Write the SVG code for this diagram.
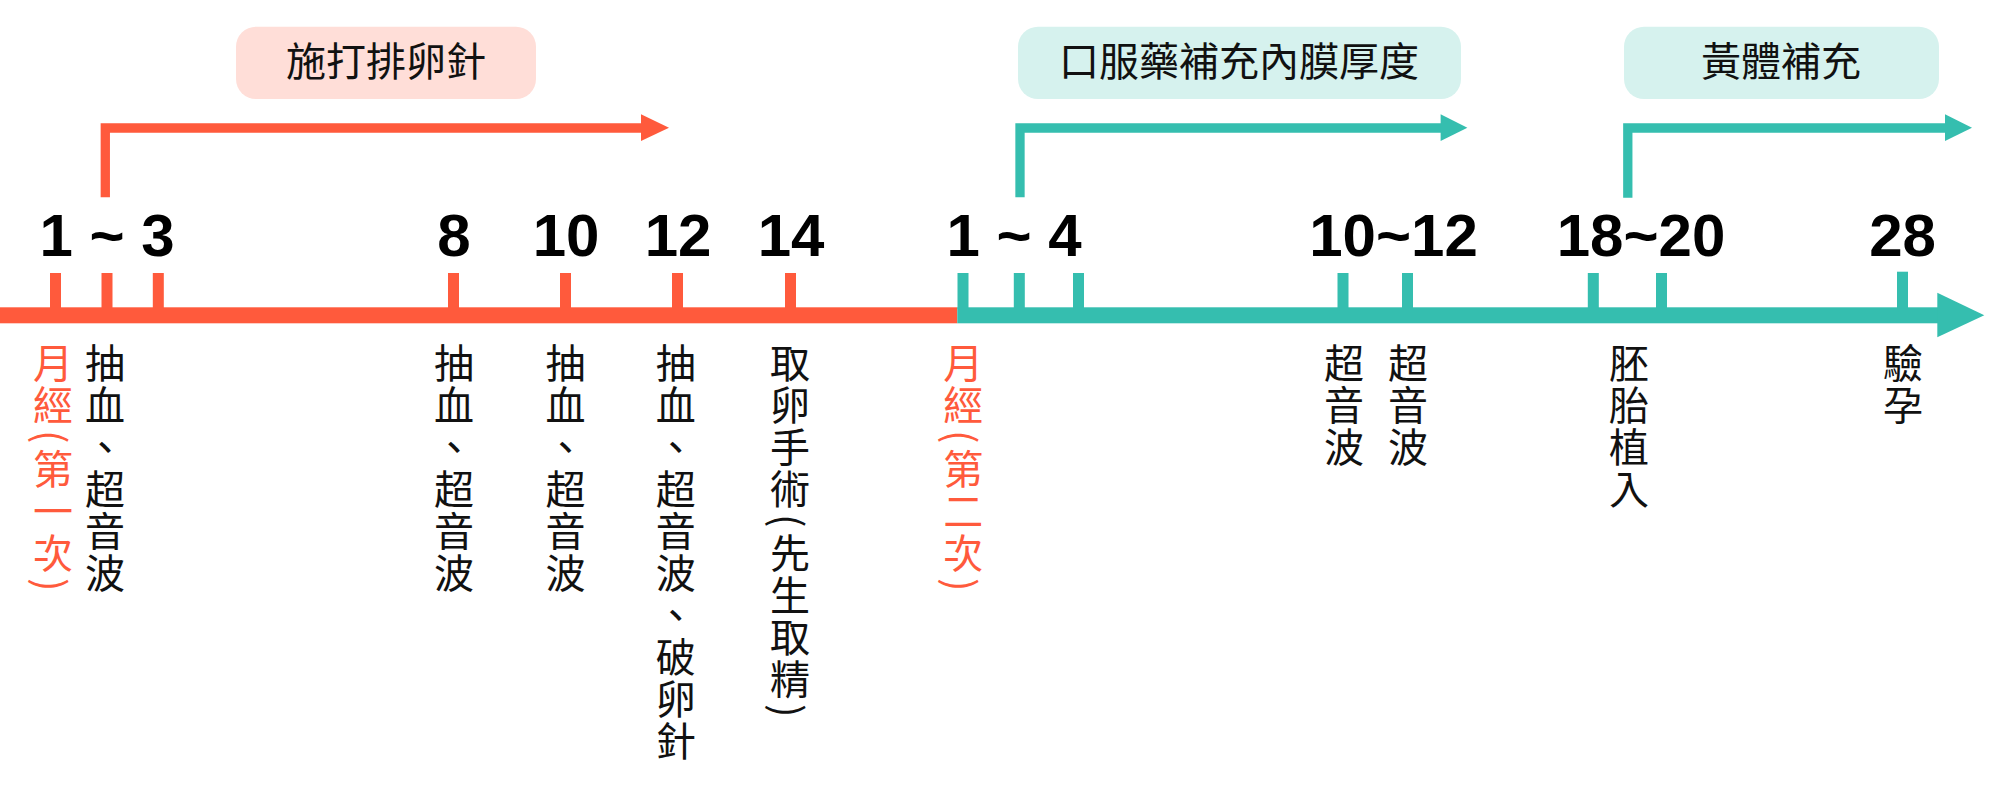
<svg xmlns="http://www.w3.org/2000/svg" width="2000" height="787" viewBox="0 0 2000 787">
<style>
.or{fill:#FF5A3C}
.te{fill:#35BEAF}
.num{font-family:"Liberation Sans",Arial,sans-serif;font-weight:bold;font-size:60px;fill:#000;text-anchor:middle}
.box-t{font-family:"Noto Sans CJK TC","Noto Sans CJK SC",sans-serif;font-size:40px;fill:#111;text-anchor:middle}
.v{font-family:"Noto Sans CJK TC","Noto Sans CJK SC",sans-serif;font-size:40px;fill:#111;writing-mode:vertical-rl;text-orientation:mixed;letter-spacing:2px}
.v.red{fill:#FF5A3C}
.brk-o{fill:none;stroke:#FF5A3C;stroke-width:9.3;stroke-linejoin:miter}
.brk-t{fill:none;stroke:#35BEAF;stroke-width:9.3;stroke-linejoin:miter}
</style>
<rect width="2000" height="787" fill="#fff"/>

<g id="connectors">
  <!-- main timeline -->
  <rect class="or" x="0" y="307.3" width="957.3" height="16"/>
  <rect class="te" x="957.3" y="307.3" width="981" height="16"/>
  <polygon class="te" points="1937.3,292.7 1984.3,315.3 1937.3,337.3"/>
  <!-- ticks -->
  <rect class="or" x="50" y="273" width="11" height="36"/>
  <rect class="or" x="101.5" y="273" width="11" height="36"/>
  <rect class="or" x="152.8" y="273" width="11" height="36"/>
  <rect class="or" x="448" y="273" width="11" height="36"/>
  <rect class="or" x="560" y="273" width="11" height="36"/>
  <rect class="or" x="672" y="273" width="11" height="36"/>
  <rect class="or" x="785" y="273" width="11" height="36"/>
  <rect class="te" x="957.5" y="273" width="11" height="36"/>
  <rect class="te" x="1013.8" y="273" width="11" height="36"/>
  <rect class="te" x="1073" y="273" width="11" height="36"/>
  <rect class="te" x="1337.5" y="273" width="11" height="36"/>
  <rect class="te" x="1402" y="273" width="11" height="36"/>
  <rect class="te" x="1587.8" y="273" width="11" height="36"/>
  <rect class="te" x="1656" y="273" width="11" height="36"/>
  <rect class="te" x="1897" y="271.7" width="11" height="37"/>
  <!-- phase brackets -->
  <path class="brk-o" d="M105.3,197.3 V128 H642"/>
  <polygon class="or" points="641,114.3 669,127.7 641,141"/>
  <path class="brk-t" d="M1020,197.3 V128 H1441"/>
  <polygon class="te" points="1440.6,114.3 1467.4,127.7 1440.6,141"/>
  <path class="brk-t" d="M1627.8,197.7 V128 H1946"/>
  <polygon class="te" points="1945,114.3 1972,127.7 1945,141"/>
</g>

<g id="phase-ovulation">
  <rect x="236" y="26.7" width="300" height="72.3" rx="20" fill="#FFDED8"/>
  <text class="box-t" x="386" y="76">施打排卵針</text>
</g>
<g id="phase-oral">
  <rect x="1018" y="26.7" width="443" height="72.3" rx="20" fill="#D6F2EE"/>
  <text class="box-t" x="1239" y="76">口服藥補充內膜厚度</text>
</g>
<g id="phase-luteal">
  <rect x="1624" y="26.7" width="315" height="72.3" rx="20" fill="#D6F2EE"/>
  <text class="box-t" x="1781" y="76">黃體補充</text>
</g>

<g id="day-numbers">
  <text class="num" x="107" y="256">1 ~ 3</text>
  <text class="num" x="454" y="256">8</text>
  <text class="num" x="566" y="256">10</text>
  <text class="num" x="678" y="256">12</text>
  <text class="num" x="791" y="256">14</text>
  <text class="num" x="1014" y="256">1 ~ 4</text>
  <text class="num" x="1393.5" y="256">10~12</text>
  <text class="num" x="1641" y="256">18~20</text>
  <text class="num" x="1902.5" y="256">28</text>
</g>

<g id="label-period-1"><text class="v red" x="53" y="343">月經<tspan dy="3" letter-spacing="5">(</tspan>第一次<tspan dy="3">)</tspan></text></g>
<g id="label-day1-3"><text class="v" x="105" y="343">抽血、超音波</text></g>
<g id="label-day8"><text class="v" x="454" y="343">抽血、超音波</text></g>
<g id="label-day10"><text class="v" x="565.6" y="343">抽血、超音波</text></g>
<g id="label-day12"><text class="v" x="675.7" y="343">抽血、超音波、破卵針</text></g>
<g id="label-day14"><text class="v" x="790" y="343">取卵手術<tspan dy="3" letter-spacing="5">(</tspan>先生取精<tspan dy="3">)</tspan></text></g>
<g id="label-period-2"><text class="v red" x="963.3" y="343">月經<tspan dy="3" letter-spacing="5">(</tspan>第二次<tspan dy="3">)</tspan></text></g>
<g id="label-us-1"><text class="v" x="1344" y="343">超音波</text></g>
<g id="label-us-2"><text class="v" x="1408" y="343">超音波</text></g>
<g id="label-transfer"><text class="v" x="1629" y="343">胚胎植入</text></g>
<g id="label-test"><text class="v" x="1903" y="343">驗孕</text></g>
</svg>
